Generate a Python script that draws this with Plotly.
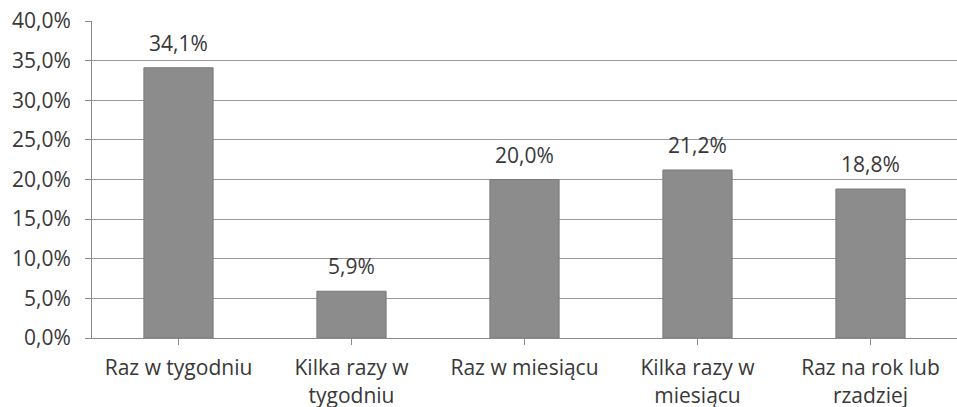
import plotly.graph_objects as go

categories = ["Raz w tygodniu", "Kilka razy w<br>tygodniu", "Raz w miesiącu",
              "Kilka razy w<br>miesiącu", "Raz na rok lub<br>rzadziej"]
values = [34.1, 5.9, 20.0, 21.2, 18.8]
y_ticks = [0, 5, 10, 15, 20, 25, 30, 35, 40]

font = "'Open Sans', Lato, sans-serif"
text_color = "#383838"
fsize = 21

fig = go.Figure()
fig.add_trace(go.Bar(
    x=list(range(len(categories))),
    y=values,
    marker=dict(color="#8c8c8c", line=dict(color="#7a7a7a", width=1)),
    width=0.4,
    hoverinfo="skip",
))

# value labels above the bars
for i, v in enumerate(values):
    fig.add_annotation(
        x=i, y=v, text=f"{v:.1f}%".replace(".", ","),
        showarrow=False, yanchor="bottom", yshift=9,
        font=dict(family=font, size=fsize, color=text_color),
    )

fig.update_layout(
    width=957, height=407,
    margin=dict(l=92, r=0, t=21, b=69),
    paper_bgcolor="white", plot_bgcolor="white",
    separators=", ",
    showlegend=False,
    font=dict(family=font, size=fsize, color=text_color),
    xaxis=dict(
        range=[-0.5, 4.5],
        automargin=False,
        tickmode="array",
        tickvals=list(range(len(categories))),
        ticktext=categories,
        tickson="boundaries",
        ticks="outside", ticklen=6, tickcolor="#8a8a8a",
        showline=True, linecolor="#8a8a8a", linewidth=1,
        showgrid=False,
        ticklabelstandoff=5,
        tickfont=dict(family=font, size=fsize, color=text_color),
    ),
    yaxis=dict(
        range=[0, 40],
        automargin=False,
        tickmode="array",
        tickvals=y_ticks,
        ticktext=[f"{t:.1f}%".replace(".", ",") for t in y_ticks],
        ticks="outside", ticklen=6, tickcolor="#8a8a8a",
        showline=True, linecolor="#8a8a8a", linewidth=1,
        showgrid=True, gridcolor="#9a9a9a", gridwidth=1,
        zeroline=False,
        ticklabelstandoff=10,
        tickfont=dict(family=font, size=fsize, color=text_color),
    ),
)

# drop the default 8px page margin so the figure fills the window exactly
fig.write_html("out.html", config={"displayModeBar": False},
               post_script="document.body.style.margin='0';document.body.style.overflow='hidden';")
